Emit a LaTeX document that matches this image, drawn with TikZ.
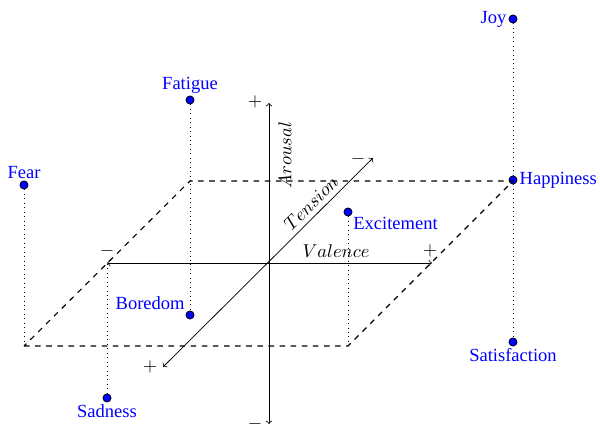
\documentclass[tikz,border=0pt]{standalone}
\usepackage{fontspec}
\setmainfont{Liberation Serif}
\begin{document}
\begin{tikzpicture}[x=0.54pt,y=-0.54pt,
  dot/.style={circle,draw=black,fill=blue,inner sep=0pt,minimum size=4.4pt},
  lbl/.style={text=blue,inner sep=1pt},
  axis/.style={<->,>=to},
  plane/.style={dashed,line width=0.6pt},
  drop/.style={dotted}]
\useasboundingbox (0,0) rectangle (600,428);
% axis end points
\coordinate (vL) at (107,263);
\coordinate (vR) at (432,263);
\coordinate (aT) at (269,103);
\coordinate (aB) at (269,424);
\coordinate (tF) at (163,367);
\coordinate (tB) at (373,158);
% plane corners
\coordinate (pBL) at (24,346);
\coordinate (pBR) at (348,346);
\coordinate (pTR) at (513,181);
\coordinate (pTL) at (190,181);
% points
\node[dot] (joy) at (513,19) {};
\node[dot] (hap) at (513,180) {};
\node[dot] (sat) at (513,342) {};
\node[dot] (fear) at (24,185) {};
\node[dot] (fat) at (190,100) {};
\node[dot] (bor) at (190,315) {};
\node[dot] (sad) at (107,398) {};
\node[dot] (exc) at (348,212) {};
% drop lines
\draw[drop] (joy) -- (hap);
\draw[drop] (hap) -- (sat);
\draw[drop] (fear) -- (pBL);
\draw[drop] (fat) -- (bor);
\draw[drop] (sad) -- (vL);
\draw[drop] (exc) -- (pBR);
% plane
\draw[plane] (pBL) -- (pBR) -- (pTR) -- (pTL) -- cycle;
% axes
\draw[axis] (vL) -- (vR);
\draw[axis] (aB) -- (aT);
\draw[axis] (tF) -- (tB);
% axis signs
\node (vm) at (107,251) {$-$};
\node (vp) at (430,251) {$+$};
\node (ap) at (255,102) {$+$};
\node (am) at (255,424) {$-$};
\node (tm) at (358,159) {$-$};
\node (tp) at (150,367) {$+$};
% axis names
\node (vn) at (336,251) {$Valence$};
\node[rotate=90] (an) at (285,155) {$Arousal$};
\node[rotate=45] (tn) at (311,203) {$Tension$};
% labels
\node[lbl,anchor=east] at (joy.west) {Joy};
\node[lbl,anchor=west] at (hap.east) {Happiness};
\node[lbl,anchor=north] at (sat.south) {Satisfaction};
\node[lbl,anchor=south] at (fear.north) {Fear};
\node[lbl,anchor=south] at (fat.north) {Fatigue};
\node[lbl,anchor=south east] at (bor.north west) {Boredom};
\node[lbl,anchor=north] at (sad.south) {Sadness};
\node[lbl,anchor=north west] at (exc.south east) {Excitement};
\end{tikzpicture}
\end{document}
